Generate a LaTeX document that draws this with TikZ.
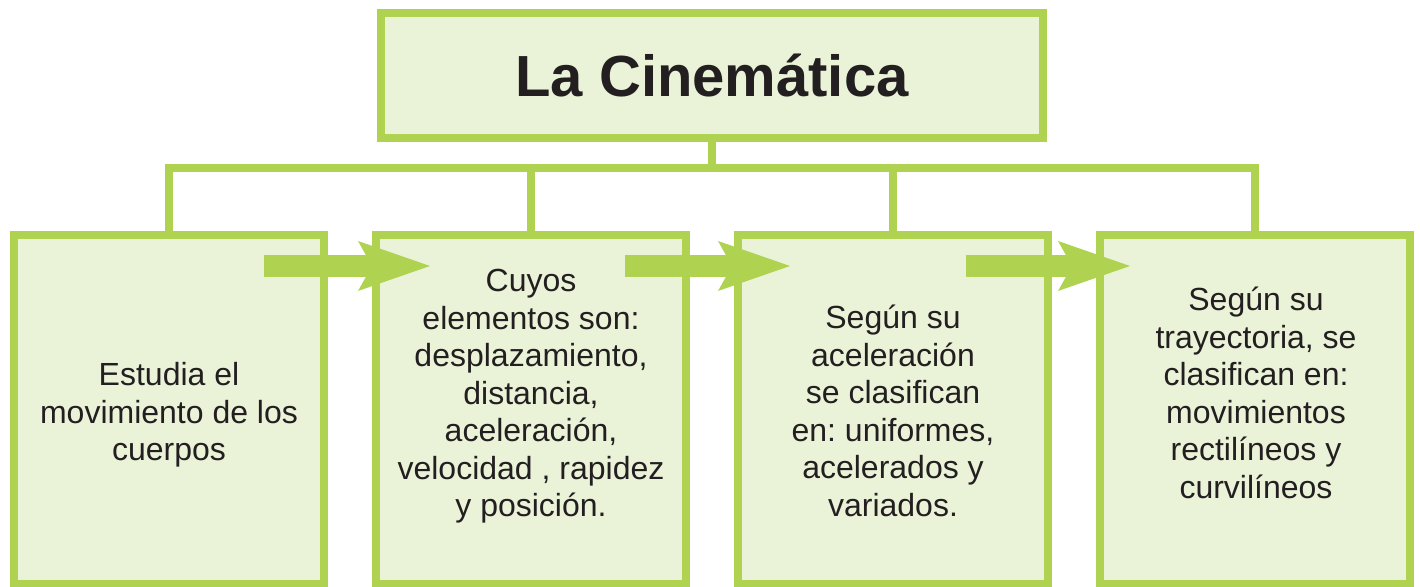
\documentclass[tikz,border=0pt]{standalone}
\usepackage{fontspec}
\setmainfont{Liberation Sans}
\usepackage{tikz}
\usetikzlibrary{arrows.meta}
\definecolor{verde}{RGB}{175,210,80}
\definecolor{verdeclaro}{RGB}{234,243,216}
\definecolor{tinta}{RGB}{35,31,32}
\frenchspacing

\begin{document}
\begin{tikzpicture}[x=0.5pt,y=-0.5pt,
        caja/.style={draw=verde,fill=verdeclaro,line width=3.75pt,outer sep=0pt,inner sep=0pt,
            minimum width=155pt,minimum height=174.5pt},
        texto/.style={text=tinta,align=center,inner sep=0pt,font=\fontsize{16}{18.75}\selectfont},
        enlace/.style={draw=verde,line width=3.75pt},
        flecha/.style={draw=verde,fill=verde,line width=11pt,
            -{Stealth[length=36pt,width=25pt,inset=7pt,line width=0pt]}}]
    \useasboundingbox (0,0) rectangle (1420,587);
    \coordinate (bus) at (0,168);

    \node[caja,minimum width=331pt,minimum height=62.5pt,text=tinta,
        font=\fontsize{29}{34}\selectfont\bfseries] (titulo) at (712,75.5) {La Cinemática};
    \draw[enlace] (titulo.south) -- (titulo.south |- bus);

    \node[caja] (c1) at (169,409.5) {};
    \node[caja] (c2) at (531,409.5) {};
    \node[caja] (c3) at (893,409.5) {};
    \node[caja] (c4) at (1255,409.5) {};
    \draw[enlace] (c1.north) -- (c1.north |- bus) -- (c4.north |- bus) -- (c4.north);
    \draw[enlace] (c2.north) -- (c2.north |- bus);
    \draw[enlace] (c3.north) -- (c3.north |- bus);

    \node[texto] (t1) at (169,415) {Estudia el\\movimiento de los\\cuerpos};
    \node[texto] (t2) at (531,396.5) {Cuyos\\elementos son:\\desplazamiento,\\distancia,\\aceleración,\\velocidad , rapidez\\y posición.};
    \node[texto] (t3) at (893,411) {Según su\\aceleración\\se clasifican\\en: uniformes,\\acelerados y\\variados.};
    \node[texto] (t4) at (1256,393) {Según su\\trayectoria, se\\clasifican en:\\movimientos\\rectilíneos y\\curvilíneos};

    \coordinate (f1a) at (264,266);
    \coordinate (f1b) at (430,266);
    \coordinate (f2a) at (625,266);
    \coordinate (f2b) at (790,266);
    \coordinate (f3a) at (966,266);
    \coordinate (f3b) at (1130,266);
    \draw[flecha] (f1a) -- (f1b);
    \draw[flecha] (f2a) -- (f2b);
    \draw[flecha] (f3a) -- (f3b);
\end{tikzpicture}
\end{document}
